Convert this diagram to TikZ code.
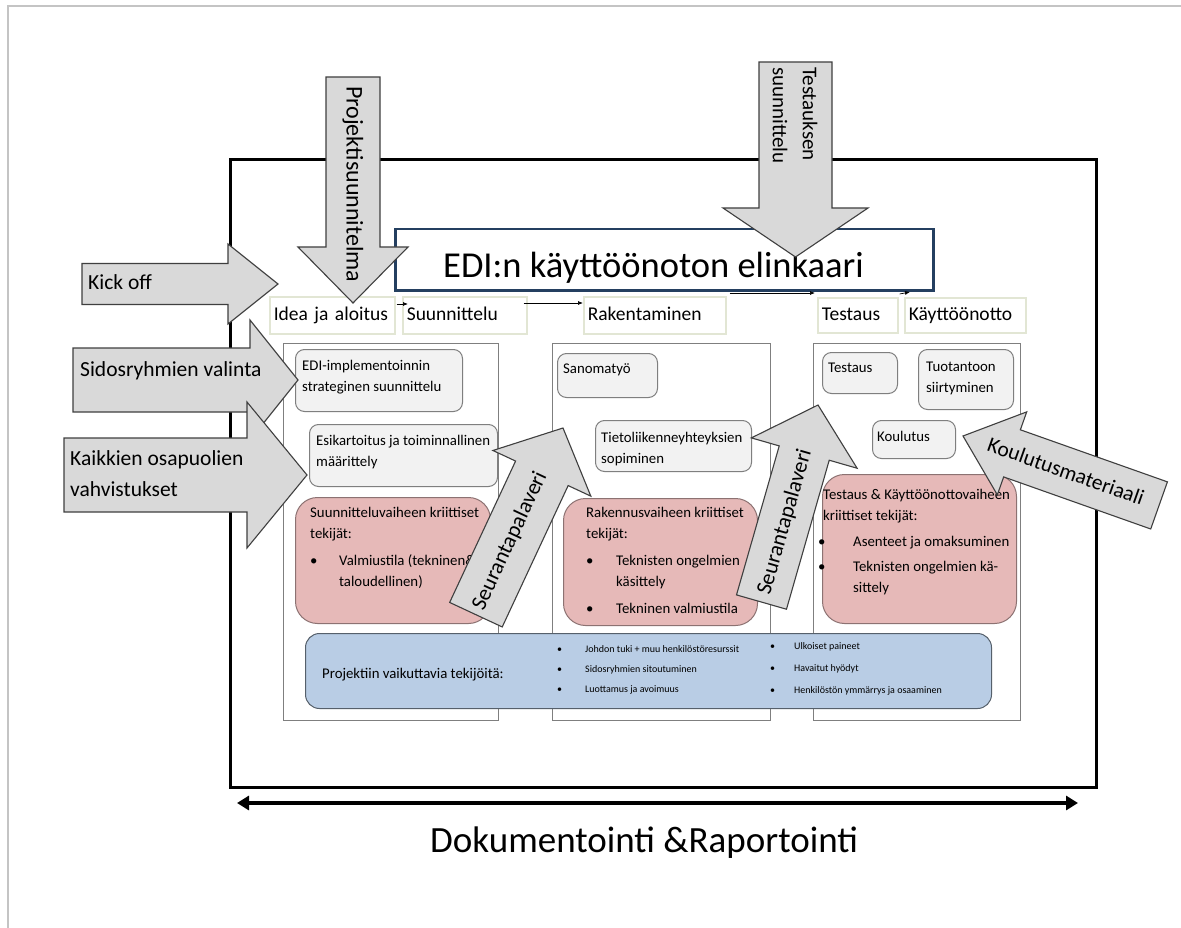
\documentclass[tikz,border=0pt]{standalone}
\usepackage{fontspec}
\setmainfont{Carlito}
\usetikzlibrary{arrows.meta,calc}

\definecolor{arrowfill}{HTML}{D9D9D9}
\definecolor{arrowedge}{HTML}{3F3F3F}
\definecolor{boxfill}{HTML}{F2F2F2}
\definecolor{boxedge}{HTML}{7F7F7F}
\definecolor{pinkfill}{HTML}{E6B9B8}
\definecolor{pinkedge}{HTML}{8C7272}
\definecolor{bluefill}{HTML}{B9CDE5}
\definecolor{blueedge}{HTML}{56606B}
\definecolor{titleblue}{HTML}{243F60}
\definecolor{phaseedge}{HTML}{E2E6D4}
\definecolor{slideedge}{HTML}{C4C4C4}

% multi-line text whose baseline is the first line
\newcommand{\txtlines}[1]{\begin{tabular}[t]{@{}l@{}}#1\end{tabular}}
% bullet in a box of given width
\newcommand{\bul}[1]{\makebox[#1][l]{•}}

% block arrow: tip x, tip y, direction, head length, head half width,
% shaft half width, total length
\newcommand{\blockarr}[7]{%
  \begin{scope}[shift={(#1,#2)},rotate=#3]
    \draw[bigarrow] (0,0) -- (-#4,#5) -- (-#4,#6) -- (-#7,#6)
      -- (-#7,-#6) -- (-#4,-#6) -- (-#4,-#5) -- cycle;
  \end{scope}}

\begin{document}
\begin{tikzpicture}[x=1pt,y=-1pt,
  bigarrow/.style={draw=arrowedge, fill=arrowfill, line width=1.1pt, line join=miter},
  phase/.style={draw=phaseedge, line width=1.6pt, fill=white, anchor=north west,
    inner xsep=4pt, inner ysep=0pt, align=left, text height=14pt, text depth=4pt,
    font=\fontsize{19.5}{24}\selectfont},
  column/.style={draw=boxedge, line width=0.9pt, anchor=north west, inner sep=0pt},
  roundbox/.style={draw=boxedge, fill=boxfill, rounded corners=9pt, line width=1pt,
    anchor=north west, inner sep=0pt},
  pinkbox/.style={draw=pinkedge, fill=pinkfill, rounded corners=22pt, line width=1pt,
    anchor=north west, inner sep=0pt},
  boxtext/.style={anchor=base west, inner sep=0pt, font=\fontsize{14.8}{21}\selectfont},
  armtext/.style={anchor=base west, inner sep=0pt, font=\fontsize{21.5}{31}\selectfont},
  flow/.style={-{Latex[length=5pt,width=4pt]}, line width=0.7pt}]

\useasboundingbox[fill=white] (0,0) rectangle (1181,928);

% slide edge
\draw[slideedge, line width=2pt] (1181,6) -- (8,6) -- (8,928);

% outer frame
\node[draw, line width=2.8pt, minimum width=866pt, minimum height=628pt,
  anchor=north west, inner sep=0pt] (frame) at (229,158) {};

% title
\node[draw=titleblue, line width=2.5pt, fill=white, minimum width=538pt,
  minimum height=61pt, anchor=north west, inner sep=0pt] (title) at (394,228) {};
\node[anchor=base west, inner sep=0pt, font=\fontsize{36.5}{40}\selectfont]
  (title-t) at (443,277) {EDI:n käyttöönoton elinkaari};

% phase labels
\node[phase, text width=117pt, minimum width=125pt, minimum height=37pt] (idea) at (269,296) {\mbox{Idea ja aloitus}};
\node[phase, text width=116pt, minimum width=124pt, minimum height=37pt] (suun) at (402,296) {\mbox{Suunnittelu}};
\node[phase, text width=134pt, minimum width=142pt, minimum height=37pt] (rak) at (583,296) {\mbox{Rakentaminen}};
\node[phase, text width=72pt, minimum width=80pt, minimum height=35pt] (test) at (817,297) {\mbox{Testaus}};
\node[phase, text width=113pt, minimum width=121pt, minimum height=35pt] (kay) at (904,297) {\mbox{Käyttöönotto}};

% phase columns
\node[column, minimum width=215pt, minimum height=377pt] (col1) at (283,343) {};
\node[column, minimum width=218pt, minimum height=377pt] (col2) at (552,343) {};
\node[column, minimum width=207pt, minimum height=377pt] (col3) at (813,343) {};

% planning column
\node[roundbox, minimum width=167pt, minimum height=62pt] (edi) at (295,349) {};
\node[boxtext] (edi-t) at (302,370) {\txtlines{EDI-implementoinnin\\strateginen suunnittelu}};
\node[roundbox, minimum width=188pt, minimum height=62pt] (esi) at (309,424) {};
\node[boxtext] (esi-t) at (316,445) {\txtlines{Esikartoitus ja toiminnallinen\\määrittely}};
\node[pinkbox, minimum width=195pt, minimum height=126pt] (pink1) at (295,497) {};
\node[boxtext] (pink1-t) at (310,517) {\txtlines{Suunnitteluvaiheen kriittiset\\tekijät:\\[6pt]
  \bul{29pt}Valmiustila (tekninen\&\\\hspace*{29pt}taloudellinen)}};

% building column
\node[roundbox, minimum width=100pt, minimum height=44pt] (sanoma) at (557,353) {};
\node[boxtext] (sanoma-t) at (563,373) {Sanomatyö};
\node[roundbox, minimum width=156pt, minimum height=51pt] (tieto) at (595,420) {};
\node[boxtext] (tieto-t) at (601,442) {\txtlines{Tietoliikenneyhteyksien\\sopiminen}};
\node[pinkbox, minimum width=194pt, minimum height=127pt] (pink2) at (563,498) {};
\node[boxtext] (pink2-t) at (586,517) {\txtlines{Rakennusvaiheen kriittiset\\tekijät:\\[6pt]
  \bul{30pt}Teknisten ongelmien\\\hspace*{30pt}käsittely\\[6pt]
  \bul{30pt}Tekninen valmiustila}};

% testing and deployment column
\node[roundbox, minimum width=75pt, minimum height=41pt] (testaus) at (822,352) {};
\node[boxtext] (testaus-t) at (828,372) {Testaus};
\node[roundbox, minimum width=95pt, minimum height=60pt] (tuot) at (918,349) {};
\node[boxtext] (tuot-t) at (926,371) {\txtlines{Tuotantoon\\siirtyminen}};
\node[roundbox, minimum width=83pt, minimum height=38pt] (koul) at (872,420) {};
\node[boxtext] (koul-t) at (877,441) {Koulutus};
\node[pinkbox, minimum width=194pt, minimum height=149pt] (pink3) at (822,474) {};
\node[boxtext] (pink3-t) at (823,499) {\txtlines{Testaus \& Käyttöönottovaiheen\\kriittiset tekijät:\\[5pt]
  \hspace*{-5pt}\bul{35pt}Asenteet ja omaksuminen\\[4pt]
  \hspace*{-5pt}\bul{35pt}Teknisten ongelmien kä-\\\hspace*{30pt}sittely}};

% factors affecting the project
\node[draw=blueedge, fill=bluefill, rounded corners=14pt, line width=1pt,
  minimum width=686pt, minimum height=75pt, anchor=north west, inner sep=0pt] (factors) at (305,633) {};
\node[anchor=base west, inner sep=0pt, font=\fontsize{14.8}{18}\selectfont]
  (factors-t) at (322,678) {Projektiin vaikuttavia tekijöitä:};
\node[anchor=base west, inner sep=0pt, font=\fontsize{10}{20}\selectfont]
  (factors-a) at (557,652) {\txtlines{\bul{28pt}Johdon tuki + muu henkilöstöresurssit\\
  \bul{28pt}Sidosryhmien sitoutuminen\\\bul{28pt}Luottamus ja avoimuus}};
\node[anchor=base west, inner sep=0pt, font=\fontsize{10}{22}\selectfont]
  (factors-b) at (770,649) {\txtlines{\bul{24pt}Ulkoiset paineet\\
  \bul{24pt}Havaitut hyödyt\\\bul{24pt}Henkilöstön ymmärrys ja osaaminen}};

% inputs from the left
\blockarr{278}{284}{0}{50}{40}{20.5}{196}
\node[armtext] (kick-t) at (88,290) {Kick off};
\blockarr{298}{380}{0}{48}{60}{32}{225}
\node[armtext] (sidos-t) at (80,376) {Sidosryhmien valinta};
\blockarr{307}{475}{0}{60}{73}{37}{243}
\node[armtext] (kaikki-t) at (70,465) {\txtlines{Kaikkien osapuolien\\vahvistukset}};

% inputs from above
\blockarr{353}{303}{-90}{56}{55}{27}{226}
\node[rotate=-90, anchor=west, inner sep=0pt, font=\fontsize{24}{28}\selectfont]
  (proj-t) at (353,86) {Projektisuunnitelma};
\blockarr{795.5}{257}{-90}{49}{72.5}{36.5}{195}
\node[rotate=-90, anchor=west, inner sep=0pt, align=left, font=\fontsize{21}{30}\selectfont]
  (testsuun-t) at (795,67) {Testauksen\\suunnittelu};

% follow-up meetings and training material
\blockarr{563}{428}{65}{50}{54}{29}{206}
\node[rotate=65, inner sep=0pt, font=\fontsize{22}{26}\selectfont] (seur1-t) at (510,541) {Seurantapalaveri};
\blockarr{818}{405}{74}{50}{55}{26}{205}
\node[rotate=74, inner sep=0pt, font=\fontsize{22}{26}\selectfont] (seur2-t) at (785,522) {Seurantapalaveri};
\blockarr{963}{436}{160.5}{52}{44}{25}{208}
\node[rotate=-19.5, inner sep=0pt, font=\fontsize{21.5}{26}\selectfont] (kmat-t) at (1066,471) {Koulutusmateriaali};

% flow between phases
\draw[flow] ($(idea.north east)+(1,8)$) -- ($(suun.north west)+(6,8)$);
\draw[flow] ($(suun.north east)+(-4,7)$) -- ($(rak.north west)+(0,7)$);
\draw[flow] ($(rak.north east)+(3,-3)$) -- ($(test.north west)+(-2,-4)$);
\draw[flow] ($(test.north east)+(1,-3)$) -- ($(kay.north west)+(6,-5)$);

% documentation and reporting span
\coordinate (docl) at (237,803);
\coordinate (docr) at (1078,803);
\draw[{Triangle[length=12pt,width=14pt]}-{Triangle[length=12pt,width=14pt]}, line width=4.5pt] (docl) -- (docr);
\node[anchor=base west, inner sep=0pt, font=\fontsize{37}{40}\selectfont]
  (doc-t) at (430,852) {Dokumentointi \&Raportointi};

\end{tikzpicture}
\end{document}
